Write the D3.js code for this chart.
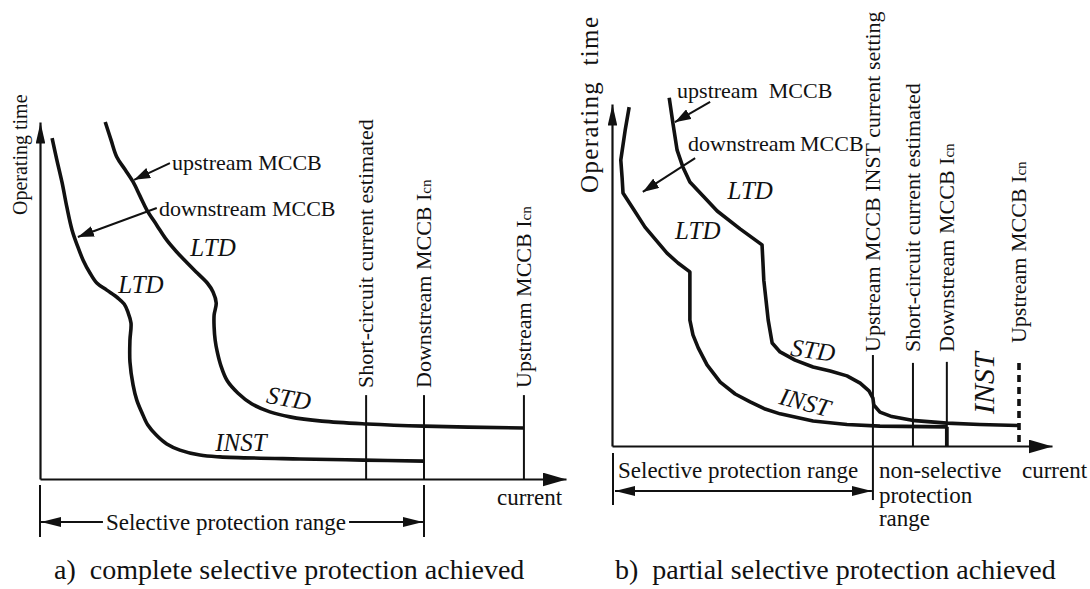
<!DOCTYPE html>
<html><head><meta charset="utf-8">
<script src="https://cdn.jsdelivr.net/npm/d3@7"></script>
<style>
html,body{margin:0;padding:0;background:#fff;}
svg{display:block;}
text{font-family:"Liberation Serif","Times New Roman",Times,serif;fill:#111;}
</style></head><body>
<svg id="chart" width="1090" height="589"></svg>
<script>
// ================= DATA (current, operating time) in arbitrary units 0–100 =================
// Panel a) complete selective protection achieved
const aUpstreamCurve = [[12.4,100.0],[13.5,95.0],[14.6,90.2],[16.2,86.6],[17.7,83.2],[19.0,79.3],[20.3,75.4],[22.2,71.1],[24.1,66.9],[26.0,63.6],[28.0,60.5],[29.9,57.7],[31.8,54.9],[32.9,52.4],[33.5,49.3],[33.1,45.9],[33.1,42.6],[33.3,38.9],[33.7,35.6],[34.4,31.7],[35.6,27.5],[37.6,24.1],[40.3,21.0],[43.7,18.8],[47.5,17.4],[53.6,16.2],[62.2,15.4],[73.0,14.8],[92.0,14.3]];
const aDownstreamCurve = [[2.3,95.5],[3.2,89.4],[4.2,83.0],[5.1,76.2],[6.1,69.7],[7.2,65.0],[8.2,61.3],[9.5,57.7],[10.8,54.9],[12.7,52.9],[14.8,50.7],[16.0,49.0],[16.7,46.8],[17.3,43.7],[17.1,38.9],[17.1,32.8],[17.7,26.3],[18.4,22.1],[19.4,18.5],[20.5,15.1],[22.1,12.3],[24.1,9.8],[26.6,8.1],[30.4,6.7],[34.2,6.2],[49.4,5.6],[61.4,5.3],[73.0,5.0]];
const aMarkerCurrents = [62.0, 73.0, 92.0];
const aMarkerLabels = ["Short-circuit current estimated", "Downstream MCCB I|cn", "Upstream MCCB I|cn"];
const aSelectiveRange = [0, 73.0];

// Panel b) partial selective protection achieved
const bUpstreamCurve = [[13.0,101.8],[13.9,93.9],[14.8,86.5],[16.1,81.6],[17.7,77.2],[20.7,73.1],[23.9,68.7],[29.1,63.5],[34.1,58.8],[34.3,53.8],[34.5,48.5],[35.0,42.7],[35.5,36.8],[36.4,30.1],[38.2,27.5],[41.6,25.1],[45.7,23.1],[49.6,21.9],[53.4,20.5],[56.4,18.4],[58.4,16.1],[59.3,14.0],[59.5,12.0],[60.9,9.9],[63.6,8.6],[68.2,7.5],[76.1,6.7],[83.6,6.3],[92.5,6.0]];
const bDownstreamCurve = [[3.9,99.1],[3.0,92.4],[2.0,83.6],[2.3,78.4],[2.5,74.0],[5.0,69.0],[7.5,64.0],[10.0,60.2],[12.5,56.4],[15.0,53.5],[17.7,50.9],[17.7,44.2],[17.7,36.8],[18.4,32.5],[19.6,28.7],[21.6,23.7],[24.6,18.7],[28.0,15.2],[31.4,12.9],[34.8,10.8],[38.2,9.4],[45.7,7.3],[53.4,6.3],[60.9,5.8],[76.1,5.6]];
const bMarkerCurrents = [59.3, 68.4, 76.1, 92.5];
const bMarkerLabels = ["Upstream MCCB INST current setting", "Short-circuit current estimated", "Downstream MCCB I|cn", "Upstream MCCB I|cn"];
const bSelectiveRange = [0, 59.3];

const breakerNames = ["upstream MCCB", "downstream MCCB"];
const zoneNames = ["LTD", "STD", "INST"];
const axisTitles = ["Operating time", "current"];
const rangeTitles = ["Selective protection range", "non-selective", "protection", "range"];
const captions = ["a)\u00a0\u00a0complete selective protection achieved", "b)\u00a0\u00a0partial selective protection achieved"];

// ================= LAYOUT =================
const INK = "#111";
const svg = d3.select("#chart");
const defs = svg.append("defs");
function addMarker(id, len, half){
  defs.append("marker").attr("id", id).attr("markerUnits", "userSpaceOnUse")
    .attr("markerWidth", len).attr("markerHeight", half*2)
    .attr("viewBox", `0 ${-half} ${len} ${half*2}`)
    .attr("refX", len).attr("refY", 0).attr("orient", "auto-start-reverse")
    .append("path").attr("d", `M0,${-half}L${len},0L0,${half}Z`).attr("fill", INK);
}
addMarker("axX", 24, 7);
addMarker("axY", 21, 4.8);
addMarker("ann", 16, 5.5);
addMarker("rng", 20, 5);

const panels = [
  {
    xRange: [40, 566], yRange: [479, 122],
    upstream: aUpstreamCurve, downstream: aDownstreamCurve, curve: d3.curveCatmullRom.alpha(0.5),
    markers: aMarkerCurrents, markerLabels: aMarkerLabels,
    markerLayout: [{top:23.5,bottom:0,label:25.5},{top:23.5,bottom:0,label:25.5},{top:23.5,bottom:0,label:25.5}],
    breakerLabels: [
      {text: breakerNames[0], at:[25.1,88.8], from:[24.7,88.5], tip:[17.9,83.8]},
      {text: breakerNames[1], at:[22.6,75.9], from:[22.2,75.9], tip:[7.2,67.8]}
    ],
    zones: [
      {text: zoneNames[0], at:[32.9,65.0], rot:0, size:25},
      {text: zoneNames[0], at:[19.2,54.6], rot:0, size:25},
      {text: zoneNames[1], at:[47.3,22.7], rot:10, size:25},
      {text: zoneNames[2], at:[38.2,10.4], rot:0, size:25}
    ],
    yTitle: {x:27, y:215, size:20, text: axisTitles[0]},
    xTitle: {x:497, y:505},
    range: aSelectiveRange,
    caption: {text: captions[0], x:54, y:579}
  },
  {
    xRange: [612, 1052], yRange: [446, 104],
    upstream: bUpstreamCurve, downstream: bDownstreamCurve, curve: d3.curveLinear,
    markers: bMarkerCurrents, markerLabels: bMarkerLabels,
    markerLayout: [{top:26.6,bottom:-15.8,label:27.5},{top:24.3,bottom:0,label:27.5},{top:24.6,bottom:0,label:27.5,thickFrom:5.6},{top:24.3,bottom:0,label:30.1,dashed:true}],
    breakerLabels: [
      {text: "upstream\u00a0\u00a0MCCB", at:[14.8,104.1], from:[22.3,100.6], tip:[14.3,94.7]},
      {text: "downstream\u2009MCCB", at:[17.3,88.6], from:[18.9,84.2], tip:[7.0,74.3]}
    ],
    zones: [
      {text: zoneNames[0], at:[31.4,74.9], rot:0, size:25},
      {text: zoneNames[0], at:[19.5,63.2], rot:0, size:25},
      {text: zoneNames[1], at:[45.7,28.1], rot:8, size:25},
      {text: zoneNames[2], at:[43.9,12.9], rot:15, size:25},
      {text: zoneNames[2], at:[84.5,18.4], rot:-90, size:30}
    ],
    yTitle: {x:598, y:193, size:25, text: axisTitles[0].replace(" ", "\u00a0\u00a0"), length:176},
    xTitle: {x:1022, y:478},
    range: bSelectiveRange,
    caption: {text: captions[1], x:615, y:579}
  }
];

function drawPanel(cfg, idx){
  const g = svg.append("g");
  const x = d3.scaleLinear([0, 100], cfg.xRange);
  const y = d3.scaleLinear([0, 100], cfg.yRange);

  // axes (no ticks, arrow heads)
  const gx = g.append("g").attr("transform", `translate(0,${y(0)})`)
    .call(d3.axisBottom(x).tickValues([]).tickSizeOuter(0));
  gx.select(".domain").attr("stroke", INK).attr("stroke-width", 2.2).attr("marker-end", "url(#axX)");
  const gy = g.append("g").attr("transform", `translate(${x(0)},0)`)
    .call(d3.axisLeft(y).tickValues([]).tickSizeOuter(0));
  gy.select(".domain").attr("stroke", INK).attr("stroke-width", 2.2).attr("marker-end", "url(#axY)");

  // marker lines and rotated labels
  cfg.markers.forEach((c, i) => {
    const L = cfg.markerLayout[i];
    const ln = g.append("line").attr("x1", x(c)).attr("x2", x(c))
      .attr("y1", y(L.top)).attr("y2", y(L.bottom)).attr("stroke", INK);
    if (L.dashed) ln.attr("stroke-width", 3.6).attr("stroke-dasharray", "7,5");
    else ln.attr("stroke-width", 2);
    if (L.thickFrom !== undefined) {
      g.append("line").attr("x1", x(c)).attr("x2", x(c))
        .attr("y1", y(L.thickFrom)).attr("y2", y(0)).attr("stroke", INK).attr("stroke-width", 3.8);
    }
    const parts = cfg.markerLabels[i].split("|");
    const t = g.append("text").attr("transform", `translate(${x(c)},${y(L.label)}) rotate(-90)`)
      .attr("dy", "0.33em").attr("font-size", 22);
    t.append("tspan").text(parts[0]);
    if (parts[1]) t.append("tspan").attr("font-size", 15).text(parts[1]);
  });

  // curves
  const line = d3.line().x(d => x(d[0])).y(d => y(d[1])).curve(cfg.curve);
  [cfg.upstream, cfg.downstream].forEach(data => {
    g.append("path").datum(data).attr("d", line).attr("fill", "none")
      .attr("stroke", INK).attr("stroke-width", 3.6).attr("stroke-linejoin", "round");
  });

  // breaker labels with pointer arrows
  cfg.breakerLabels.forEach(b => {
    g.append("text").attr("x", x(b.at[0])).attr("y", y(b.at[1])).attr("dy", "0.35em")
      .attr("font-size", 22).text(b.text);
    g.append("line").attr("x1", x(b.from[0])).attr("y1", y(b.from[1]))
      .attr("x2", x(b.tip[0])).attr("y2", y(b.tip[1]))
      .attr("stroke", INK).attr("stroke-width", 2).attr("marker-end", "url(#ann)");
  });

  // zone labels
  cfg.zones.forEach(z => {
    g.append("text").attr("transform", `translate(${x(z.at[0])},${y(z.at[1])}) rotate(${z.rot})`)
      .attr("text-anchor", "middle").attr("dy", "0.35em").attr("font-style", "italic")
      .attr("font-size", z.size).text(z.text);
  });

  // axis titles
  const yt = g.append("text").attr("transform", `translate(${cfg.yTitle.x},${cfg.yTitle.y}) rotate(-90)`)
    .attr("font-size", cfg.yTitle.size).text(cfg.yTitle.text);
  if (cfg.yTitle.length) yt.attr("textLength", cfg.yTitle.length).attr("lengthAdjust", "spacing");
  g.append("text").attr("x", cfg.xTitle.x).attr("y", cfg.xTitle.y).attr("font-size", 23).text(axisTitles[1]);

  // selective protection range
  const x0 = x(cfg.range[0]), x1 = x(cfg.range[1]);
  if (idx === 0) {
    const yb0 = y(0) + 6, yb1 = y(0) + 58, ya = y(0) + 43;
    [x0, x1].forEach(xx => g.append("line").attr("x1", xx).attr("x2", xx).attr("y1", yb0).attr("y2", yb1)
      .attr("stroke", INK).attr("stroke-width", 2));
    const tx = g.append("text").attr("x", x0 + 186).attr("y", ya).attr("dy", "0.35em")
      .attr("text-anchor", "middle").attr("font-size", 23).text(rangeTitles[0]);
    const w = tx.node().getComputedTextLength();
    g.append("line").attr("x1", x0 + 186 - w/2 - 3).attr("x2", x0 + 1).attr("y1", ya).attr("y2", ya)
      .attr("stroke", INK).attr("stroke-width", 2).attr("marker-end", "url(#rng)");
    g.append("line").attr("x1", x0 + 186 + w/2 + 3).attr("x2", x1 - 1).attr("y1", ya).attr("y2", ya)
      .attr("stroke", INK).attr("stroke-width", 2).attr("marker-end", "url(#rng)");
  } else {
    const ya = y(0) + 45;
    g.append("line").attr("x1", x0 + 1).attr("x2", x0 + 1).attr("y1", y(0) + 7).attr("y2", y(0) + 59)
      .attr("stroke", INK).attr("stroke-width", 2);
    g.append("line").attr("x1", x0 + 3).attr("x2", x1 - 1).attr("y1", ya).attr("y2", ya)
      .attr("stroke", INK).attr("stroke-width", 2)
      .attr("marker-start", "url(#rng)").attr("marker-end", "url(#rng)");
    g.append("text").attr("x", x0 + 6).attr("y", y(0) + 32).attr("font-size", 23).text(rangeTitles[0]);
    [[rangeTitles[1], 32], [rangeTitles[2], 57], [rangeTitles[3], 80]].forEach(([s, dy]) => {
      g.append("text").attr("x", x1 + 6).attr("y", y(0) + dy).attr("font-size", 23).text(s);
    });
  }

  // caption
  g.append("text").attr("x", cfg.caption.x).attr("y", cfg.caption.y).attr("font-size", 28).text(cfg.caption.text);
}

panels.forEach(drawPanel);
</script>
</body></html>
